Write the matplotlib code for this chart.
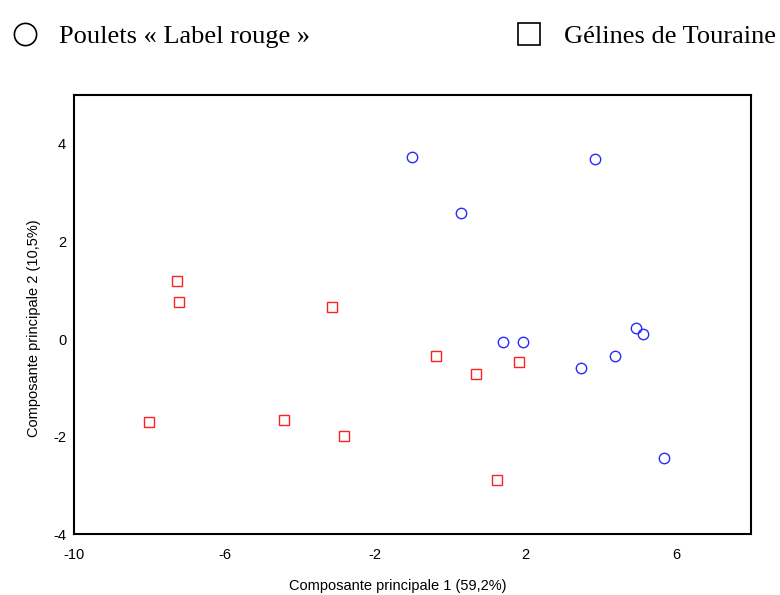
import matplotlib.pyplot as plt
from matplotlib.lines import Line2D

plt.rcParams['axes.unicode_minus'] = False

# Poulets « Label rouge » (cercles bleus)
label_rouge_x = [-1.03, 0.29, 3.84, 1.41, 1.94, 4.94, 5.12, 4.37, 3.47, 5.69]
label_rouge_y = [3.72, 2.58, 3.68, -0.07, -0.07, 0.23, 0.10, -0.35, -0.60, -2.43]

# Gélines de Touraine (carrés rouges)
gelines_x = [-7.27, -7.22, -3.15, -8.01, -4.42, -2.82, -0.39, 0.67, 1.83, 1.24]
gelines_y = [1.19, 0.75, 0.66, -1.70, -1.66, -1.98, -0.35, -0.72, -0.47, -2.88]

x_ticks = [-10, -6, -2, 2, 6]
y_ticks = [-4, -2, 0, 2, 4]

fig = plt.figure(figsize=(7.8, 5.95), dpi=100)
ax = fig.add_axes([0.0955, 0.1017, 0.8673, 0.7391])

ax.plot(label_rouge_x, label_rouge_y, 'o', ls='none', ms=7.5, mfc='none',
        mec='#2a2aff', mew=1.0)
ax.plot(gelines_x, gelines_y, 's', ls='none', ms=7.5, mfc='none',
        mec='#ff2020', mew=1.0)

ax.set_xlim(-10, 8)
ax.set_ylim(-4, 5)
ax.set_xticks(x_ticks)
ax.set_yticks(y_ticks)
ax.tick_params(length=0, labelsize=10.5)
ax.tick_params(axis='x', pad=10)
ax.tick_params(axis='y', pad=6)
for lab in ax.get_xticklabels() + ax.get_yticklabels():
    lab.set_fontfamily('Liberation Sans')
for sp in ax.spines.values():
    sp.set_linewidth(1.5)

ax.set_xlabel('Composante principale 1 (59,2%)', fontsize=10.5,
              fontfamily='Liberation Sans')
ax.set_ylabel('Composante principale 2 (10,5%)', fontsize=10.5,
              fontfamily='Liberation Sans')
ax.xaxis.set_label_coords(0.478, -0.101)
ax.yaxis.set_label_coords(-0.050, 0.47)

handles = [
    Line2D([], [], marker='o', ls='none', ms=16, mfc='none', mec='black', mew=1.2),
    Line2D([], [], marker='s', ls='none', ms=16, mfc='none', mec='black', mew=1.2),
]
fig.legend(handles, ['Poulets « Label rouge »', 'Gélines de Touraine'],
           loc='upper left', bbox_to_anchor=(-0.0085, 0.99), ncol=2, frameon=False,
           prop={'family': 'Liberation Serif', 'size': 19},
           handlelength=1.0, handletextpad=0.8, columnspacing=7.8,
           borderaxespad=0.3)

fig.savefig('out.png', dpi=100)
